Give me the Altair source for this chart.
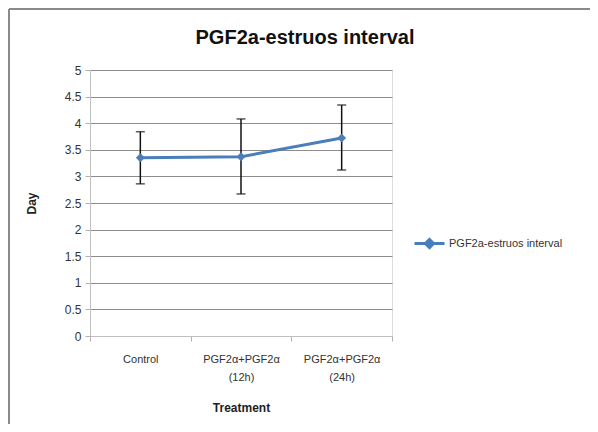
import altair as alt
import pandas as pd

categories = ["Control", "PGF2α+PGF2α (12h)", "PGF2α+PGF2α (24h)"]
means = [3.35, 3.37, 3.72]
upper = [3.84, 4.08, 4.34]
lower = [2.86, 2.67, 3.12]
series_name = "PGF2a-estruos interval"
chart_title = "PGF2a-estruos interval"
y_ticks = [0, 0.5, 1, 1.5, 2, 2.5, 3, 3.5, 4, 4.5, 5]

df = pd.DataFrame({
    "Treatment": categories,
    "Day": means,
    "hi": upper,
    "lo": lower,
    "series": [series_name] * len(categories),
})

FONT = "Liberation Sans"
blue = "#4a7ebb"

xaxis = alt.Axis(
    title="Treatment",
    labelAngle=0,
    labelExpr="split(datum.label, ' ')",
    labelLineHeight=18,
    labelPadding=12,
    labelFontSize=11,
    labelColor="#333333",
    labelFont=FONT,
    titleFont=FONT,
    titleFontSize=12,
    titleFontWeight="bold",
    titleColor="#222222",
    titlePadding=20,
    tickBand="extent",
    tickColor="#b0b0b0",
    tickSize=5,
    domainColor="#c0c0c0",
    grid=False,
)
xscale = alt.Scale(paddingInner=0, paddingOuter=0)

yscale = alt.Scale(domain=[0, 5], nice=False)
yaxis = alt.Axis(
    title="Day",
    values=y_ticks,
    format="~g",
    labelOverlap=False,
    labelFontSize=12,
    labelColor="#333333",
    labelFont=FONT,
    labelPadding=4,
    titleFont=FONT,
    titleFontSize=12,
    titleFontWeight="bold",
    titleColor="#222222",
    titlePadding=26,
    tickColor="#b0b0b0",
    tickSize=5,
    domainColor="#c0c0c0",
    gridColor="#8c8c8c",
    gridWidth=1,
)

def X():
    return alt.X("Treatment:N", sort=categories, scale=xscale, axis=xaxis)

base = alt.Chart(df)

line = base.mark_line(strokeWidth=3, point=alt.OverlayMarkDef(shape="diamond", size=80, filled=True)).encode(
    x=X(),
    y=alt.Y("Day:Q", scale=yscale, axis=yaxis),
    color=alt.Color(
        "series:N",
        scale=alt.Scale(range=[blue]),
        legend=alt.Legend(
            title=None,
            orient="none",
            legendX=323,
            legendY=157,
            symbolType="M-1,0H1M0,-0.27L0.27,0L0,0.27L-0.27,0Z",
            symbolSize=900,
            symbolStrokeWidth=3,
            symbolFillColor=blue,
            labelFont=FONT,
            labelFontSize=11,
            labelColor="#333333",
            labelOffset=3,
        ),
    ),
)

err = base.mark_rule(color="#111111", strokeWidth=1.5).encode(
    x=X(),
    y=alt.Y("lo:Q", scale=yscale, axis=yaxis),
    y2="hi:Q",
)
cap_hi = base.mark_tick(color="#111111", thickness=1.5, size=9, orient="horizontal").encode(
    x=X(),
    y=alt.Y("hi:Q", scale=yscale, axis=yaxis),
)
cap_lo = base.mark_tick(color="#111111", thickness=1.5, size=9, orient="horizontal").encode(
    x=X(),
    y=alt.Y("lo:Q", scale=yscale, axis=yaxis),
)

one = pd.DataFrame({"t": [chart_title]})
title_mark = alt.Chart(one).mark_text(
    font=FONT, fontSize=20, fontWeight="bold", color="#111111", align="center", baseline="middle"
).encode(x=alt.value(215), y=alt.value(-32), text="t:N")

frame_left = alt.Chart(one).mark_rule(color="#8a8a8a", strokeWidth=2).encode(
    x=alt.value(-81), y=alt.value(-61), y2=alt.value(360)
)
frame_top = alt.Chart(one).mark_rule(color="#8a8a8a", strokeWidth=2).encode(
    x=alt.value(-81), x2=alt.value(520), y=alt.value(-61)
)

chart = alt.layer(err, cap_hi, cap_lo, line, title_mark, frame_left, frame_top).properties(
    width=302,
    height=266,
    autosize=alt.AutoSizeParams(type="none"),
    padding={"left": 82, "top": 62, "right": 198, "bottom": 88},
).configure_view(stroke=None).configure(background="white")

chart.save("out.html", embed_options={"renderer": "svg", "actions": False})
